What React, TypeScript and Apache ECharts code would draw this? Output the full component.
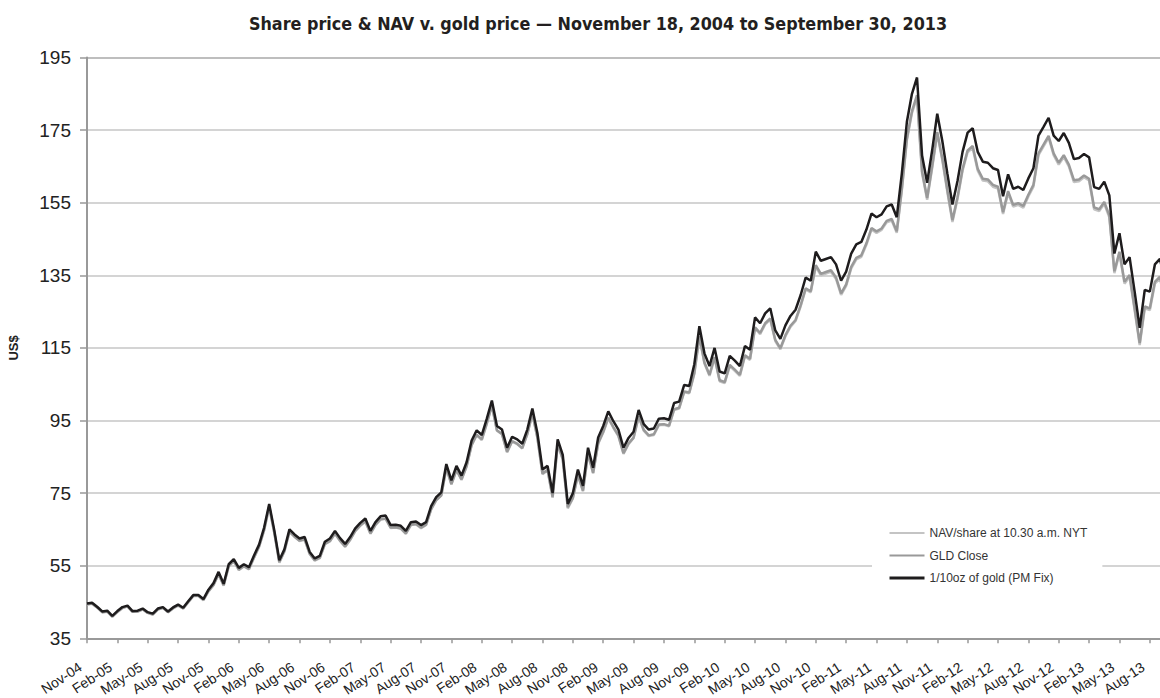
import React, { useEffect, useRef } from "react";
import * as echarts from "echarts";

const MONTH_NAMES = ["Jan", "Feb", "Mar", "Apr", "May", "Jun", "Jul", "Aug", "Sep", "Oct", "Nov", "Dec"];

// Semi-monthly categories, Nov-04 .. Sep-13 (two points per month)
const categories: string[] = [];
for (let i = 0; i < 107; i++) {
  const m = (10 + i) % 12;
  const y = 2004 + Math.floor((10 + i) / 12);
  const lab = `${MONTH_NAMES[m]}-${String(y % 100).padStart(2, "0")}`;
  categories.push(lab);
  categories.push(`${lab} mid`);
}

const goldPrice = [
  44.6, 44.8, 43.7, 42.4, 42.6, 41.2, 42.5, 43.6, 44.0, 42.5, 42.6, 43.2, 42.2, 41.8, 43.2, 43.6, 42.4, 43.5, 44.3, 43.4, 45.2, 46.9, 46.9, 45.8,
  48.4, 50.2, 53.3, 50.0, 55.4, 56.8, 54.4, 55.4, 54.6, 57.8, 60.8, 65.5, 72.0, 64.8, 56.5, 59.5, 65.0, 63.6, 62.5, 62.9, 58.8, 57.0, 57.7, 61.6,
  62.5, 64.6, 62.6, 61.0, 62.9, 65.3, 66.8, 68.0, 64.6, 67.0, 68.6, 68.8, 66.2, 66.3, 66.0, 64.6, 67.0, 67.2, 66.2, 67.0, 71.4, 73.9, 75.2, 83.0,
  78.5, 82.5, 79.8, 83.5, 89.5, 92.3, 91.0, 95.5, 100.5, 93.5, 92.5, 87.5, 90.5, 89.8, 88.6, 92.5, 98.3, 91.5, 81.5, 82.5, 75.0, 89.8, 85.5, 72.0,
  75.0, 81.5, 77.0, 87.5, 82.0, 90.3, 93.5, 97.5, 94.8, 92.5, 87.5, 90.2, 91.9, 97.9, 94.0, 92.5, 92.8, 95.5, 95.6, 95.2, 99.8, 100.2, 104.8, 104.5,
  110.5, 121.0, 113.5, 110.0, 115.0, 108.5, 108.0, 112.8, 111.5, 110.0, 115.5, 114.5, 123.4, 121.8, 124.5, 125.9, 119.8, 117.5, 121.2, 123.8, 125.5, 129.5, 134.4, 133.5,
  141.5, 139.0, 139.5, 140.0, 138.0, 133.5, 136.0, 141.0, 143.5, 144.2, 147.6, 152.0, 151.0, 151.8, 154.0, 154.5, 151.0, 163.0, 177.3, 185.0, 189.5, 168.0, 160.5, 169.5,
  179.5, 172.0, 163.0, 154.5, 161.0, 169.0, 174.3, 175.5, 169.0, 166.3, 166.0, 164.5, 164.0, 156.8, 162.8, 158.8, 159.4, 158.5, 161.7, 164.5, 173.5, 175.9, 178.4, 173.5,
  172.0, 174.2, 171.5, 167.0, 167.3, 168.4, 167.5, 159.3, 158.8, 160.8, 157.0, 141.0, 146.6, 138.0, 140.0, 130.5, 120.5, 131.0, 130.5, 138.0, 139.5, 133.5,
];

const gldClose = [
  44.4, 44.6, 43.5, 42.2, 42.4, 41.0, 42.3, 43.4, 43.8, 42.3, 42.4, 43.0, 42.0, 41.6, 43.0, 43.4, 42.2, 43.3, 44.1, 43.2, 45.0, 46.7, 46.7, 45.6,
  48.0, 49.7, 52.8, 49.6, 54.9, 56.3, 53.9, 54.9, 54.1, 57.3, 60.3, 64.9, 71.4, 64.2, 56.0, 59.0, 64.4, 63.0, 61.9, 62.3, 58.3, 56.5, 57.2, 61.0,
  61.8, 63.9, 61.9, 60.3, 62.2, 64.6, 66.1, 67.3, 63.9, 66.3, 67.8, 68.0, 65.5, 65.6, 65.3, 63.9, 66.3, 66.5, 65.5, 66.3, 70.6, 73.1, 74.4, 82.1,
  77.5, 81.4, 78.8, 82.4, 88.3, 91.1, 89.8, 94.3, 99.2, 92.3, 91.3, 86.4, 89.3, 88.6, 87.4, 91.3, 97.0, 90.3, 80.4, 81.4, 74.0, 88.6, 84.4, 71.1,
  73.7, 80.1, 75.7, 86.0, 80.6, 88.8, 91.9, 95.8, 93.2, 90.9, 86.0, 88.7, 90.3, 96.2, 92.4, 90.9, 91.2, 93.9, 94.0, 93.6, 98.1, 98.5, 103.0, 102.7,
  108.1, 118.3, 111.0, 107.6, 112.5, 106.1, 105.6, 110.3, 109.0, 107.6, 113.0, 112.0, 120.7, 119.1, 121.8, 123.1, 117.2, 114.9, 118.5, 121.1, 122.7, 126.7, 131.4, 130.6,
  137.8, 135.4, 135.9, 136.4, 134.4, 130.0, 132.5, 137.3, 139.8, 140.5, 143.8, 148.0, 147.1, 147.9, 150.0, 150.5, 147.1, 158.8, 172.7, 180.2, 184.6, 163.6, 156.3, 165.1,
  174.5, 167.2, 158.4, 150.2, 156.5, 164.3, 169.4, 170.6, 164.3, 161.6, 161.4, 159.9, 159.4, 152.4, 158.2, 154.4, 154.9, 154.1, 157.2, 159.9, 168.6, 171.0, 173.4, 168.6,
  166.0, 168.1, 165.5, 161.2, 161.4, 162.5, 161.6, 153.7, 153.2, 155.2, 151.5, 136.1, 141.5, 133.2, 135.1, 125.9, 116.3, 126.4, 125.9, 133.2, 134.6, 128.8,
];

const navShare = [
  44.3, 44.5, 43.5, 42.2, 42.3, 41.0, 42.2, 43.3, 43.8, 42.3, 42.3, 43.0, 42.0, 41.5, 42.9, 43.4, 42.2, 43.2, 44.0, 43.2, 44.9, 46.6, 46.7, 45.5,
  47.9, 49.7, 52.6, 49.5, 54.8, 56.3, 53.8, 54.8, 54.0, 57.2, 60.2, 64.8, 71.0, 64.1, 55.8, 58.9, 64.3, 63.0, 61.8, 62.2, 58.2, 56.4, 57.1, 60.9,
  61.7, 63.8, 61.8, 60.2, 62.1, 64.5, 66.0, 67.1, 63.8, 66.2, 67.7, 67.9, 65.4, 65.5, 65.2, 63.8, 66.2, 66.4, 65.3, 66.2, 70.5, 73.0, 74.3, 81.8,
  77.4, 81.3, 78.6, 82.3, 88.2, 91.0, 89.6, 94.1, 99.0, 92.2, 91.2, 86.2, 89.2, 88.5, 87.3, 91.2, 96.8, 90.1, 80.2, 81.3, 73.7, 88.4, 84.2, 70.8,
  73.5, 79.9, 75.5, 85.8, 80.4, 88.6, 91.7, 95.6, 93.0, 90.7, 85.8, 88.5, 90.2, 96.0, 92.2, 90.7, 91.0, 93.7, 93.8, 93.4, 97.9, 98.3, 102.8, 102.5,
  107.8, 118.0, 110.7, 107.3, 112.2, 105.8, 105.3, 110.0, 108.7, 107.3, 112.7, 111.7, 120.4, 118.8, 121.5, 122.8, 116.9, 114.6, 118.2, 120.8, 122.4, 126.4, 131.1, 130.3,
  137.4, 135.0, 135.5, 136.0, 134.0, 129.6, 132.1, 136.9, 139.4, 140.1, 143.4, 147.6, 146.7, 147.5, 149.6, 150.1, 146.7, 158.4, 172.2, 179.7, 184.0, 163.1, 155.8, 164.6,
  174.0, 166.7, 157.9, 149.7, 156.0, 163.8, 168.9, 170.1, 163.8, 161.1, 160.9, 159.4, 158.9, 151.9, 157.7, 153.9, 154.4, 153.6, 156.7, 159.4, 168.1, 170.5, 172.9, 168.1,
  165.5, 167.6, 165.0, 160.7, 160.9, 162.0, 161.1, 153.2, 152.7, 154.7, 151.0, 135.6, 141.0, 132.7, 134.6, 125.4, 115.8, 125.9, 125.4, 132.7, 134.1, 128.3,
];

const yTicks = { min: 35, max: 195, interval: 20 };
const seriesNames = ["NAV/share at 10.30 a.m. NYT", "GLD Close", "1/10oz of gold (PM Fix)"];

const FONT = "'Liberation Sans', Arial, Helvetica, sans-serif";

export default function App() {
  const ref = useRef<HTMLDivElement>(null);
  useEffect(() => {
    if (!ref.current) return;
    const chart = echarts.init(ref.current, undefined, { renderer: "svg" });
    const showEvery = (idx: number) => idx % 6 === 0;
    chart.setOption({
      animation: false,
      backgroundColor: "#ffffff",
      title: {
        text: "Share price & NAV v. gold price \u2014 November 18, 2004 to September 30, 2013",
        left: 593,
        top: 9,
        textAlign: "center",
        textStyle: {
          fontFamily: "'Liberation Sans Narrow', 'Arial Narrow', 'DejaVu Sans Condensed', sans-serif",
          fontWeight: "bold",
          fontSize: 17.8,
          color: "#231f20",
        },
      },
      legend: {
        orient: "vertical",
        left: 872,
        top: 517,
        backgroundColor: "#ffffff",
        padding: [10, 15, 10, 16],
        itemWidth: 35,
        itemHeight: 14,
        itemGap: 10.5,
        itemStyle: { color: "rgba(0,0,0,0)", borderWidth: 0 },
        data: [
          { name: seriesNames[0] },
          { name: seriesNames[1] },
          { name: seriesNames[2], lineStyle: { width: 3 } },
        ],
        textStyle: { fontFamily: FONT, fontSize: 12, color: "#333" },
      },
      grid: { left: 87, right: -5, top: 57.5, bottom: 59.7, containLabel: false, outerBoundsMode: "none" },
      xAxis: {
        type: "category",
        data: categories,
        boundaryGap: false,
        axisLine: { lineStyle: { color: "#999", width: 2 } },
        axisTick: { interval: showEvery, length: 5, lineStyle: { color: "#999", width: 1.5 } },
        axisLabel: {
          interval: showEvery,
          rotate: 33,
          fontSize: 14,
          color: "#222",
          margin: 23,
          padding: [0, 8, 0, 0],
          fontFamily: FONT,
        },
        splitLine: { show: false },
      },
      yAxis: {
        type: "value",
        min: yTicks.min,
        max: yTicks.max,
        interval: yTicks.interval,
        name: "US$",
        nameLocation: "middle",
        nameGap: 67,
        nameTextStyle: { fontFamily: FONT, fontWeight: "bold", fontSize: 13, color: "#222" },
        axisLine: { show: true, lineStyle: { color: "#999", width: 2 } },
        axisTick: { show: true, length: 7, lineStyle: { color: "#999", width: 1.5 } },
        axisLabel: { fontSize: 19, color: "#222", margin: 16, fontFamily: FONT },
        splitLine: {
          lineStyle: {
            color: ["#c6c6c6", "#c6c6c6", "#c6c6c6", "#c6c6c6", "#c6c6c6", "#c6c6c6", "#c6c6c6", "#c6c6c6", "#a8a8a8"],
            width: 1.5,
          },
        },
      },
      series: [
        {
          name: seriesNames[0],
          type: "line",
          data: navShare,
          symbol: "none",
          showSymbol: false,
          lineStyle: { color: "#c4c4c4", width: 2.5 },
          itemStyle: { color: "#c4c4c4" },
        },
        {
          name: seriesNames[1],
          type: "line",
          data: gldClose,
          symbol: "none",
          showSymbol: false,
          lineStyle: { color: "#999999", width: 2.5 },
          itemStyle: { color: "#999999" },
        },
        {
          name: seriesNames[2],
          type: "line",
          data: goldPrice,
          symbol: "none",
          showSymbol: false,
          lineStyle: { color: "#1e1c1d", width: 2.5 },
          itemStyle: { color: "#1e1c1d" },
        },
      ],
    });
    return () => chart.dispose();
  }, []);
  return (
    <div
      ref={ref}
      style={{ position: "fixed", left: 0, top: 0, width: 1160, height: 698, background: "#fff" }}
    />
  );
}
